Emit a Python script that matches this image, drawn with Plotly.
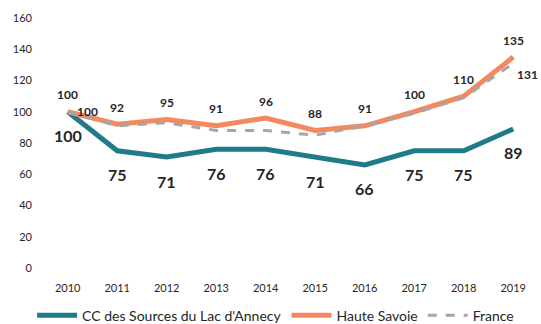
import plotly.graph_objects as go

years = [2010, 2011, 2012, 2013, 2014, 2015, 2016, 2017, 2018, 2019]
cc_sources = [100, 75, 71, 76, 76, 71, 66, 75, 75, 89]
haute_savoie = [100, 92, 95, 91, 96, 88, 91, 100, 110, 135]
france = [100, 91, 93, 88, 88, 85, 91, 99, 109, 131]
y_ticks = [0, 20, 40, 60, 80, 100, 120, 140, 160]

TEAL = "#1f7a8a"
ORANGE = "#f4895f"
GRAY = "#a6a6a6"
TXT = "#262626"
FONT = "Lato"

fig = go.Figure()
fig.add_trace(go.Scatter(x=years, y=cc_sources, mode="lines", name="CC des Sources du Lac d'Annecy",
                         line=dict(color=TEAL, width=5)))
fig.add_trace(go.Scatter(x=years, y=haute_savoie, mode="lines", name="Haute Savoie",
                         line=dict(color=ORANGE, width=5)))
fig.add_trace(go.Scatter(x=years, y=france, mode="lines", name="France",
                         line=dict(color=GRAY, width=3, dash="dash")))

ann = []
for x, v in zip(years, haute_savoie):
    ann.append(dict(x=x, y=v, text=str(v), showarrow=False, yshift=17,
                    font=dict(family=FONT, size=12, color=TXT, weight="bold")))
for x, v in zip(years, cc_sources):
    ann.append(dict(x=x, y=v, text=str(v), showarrow=False, yshift=-24,
                    font=dict(family=FONT, size=16, color=TXT, weight="bold")))
ann.append(dict(x=years[0], y=france[0], text=str(france[0]), showarrow=False,
                xshift=20, yshift=0,
                font=dict(family=FONT, size=12, color=TXT, weight="bold")))
ann.append(dict(x=years[-1], y=france[-1], text=str(france[-1]), showarrow=False,
                xanchor="left", xshift=2, yshift=-11,
                font=dict(family=FONT, size=12, color=TXT, weight="bold")))

fig.update_layout(
    width=541, height=324,
    margin=dict(l=43, r=3, t=18, b=56, autoexpand=False),
    paper_bgcolor="white", plot_bgcolor="white",
    font=dict(family=FONT, color=TXT),
    annotations=ann,
    showlegend=True,
    legend=dict(orientation="h", x=-0.022, y=-0.127, xanchor="left", yanchor="top",
                font=dict(family=FONT, size=14, color=TXT), itemwidth=40,
                tracegroupgap=0, bgcolor="rgba(0,0,0,0)"),
    xaxis=dict(range=[2009.5, 2019.5], tickvals=years, ticktext=[str(y) for y in years],
               showgrid=False, zeroline=False, showline=False, ticks="",
               ticklabelstandoff=12,
               tickfont=dict(family=FONT, size=11, color=TXT)),
    yaxis=dict(range=[0, 160], tickvals=y_ticks, showgrid=False, zeroline=False,
               showline=False, ticks="", ticklabelstandoff=10,
               tickfont=dict(family=FONT, size=11, color=TXT)),
)

fig.write_html("out.html", config={"displayModeBar": False},
               post_script="document.body.style.margin='0';document.body.style.overflow='hidden';")
